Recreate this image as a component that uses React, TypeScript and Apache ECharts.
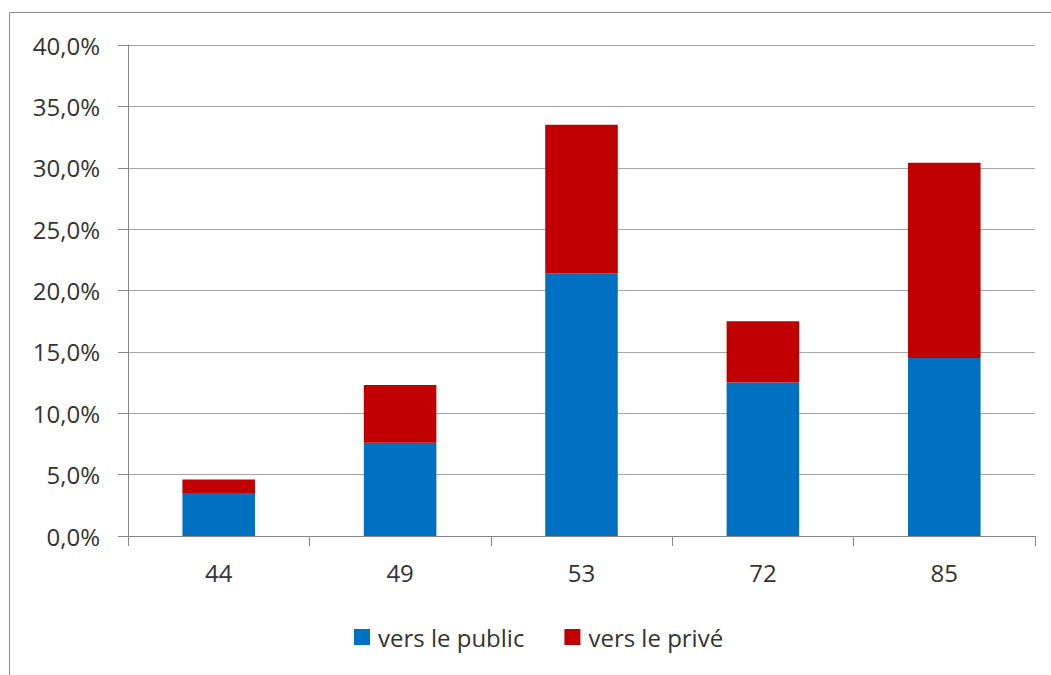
import React, { useEffect, useRef } from "react";
import * as echarts from "echarts";

const categories = ["44", "49", "53", "72", "85"];
const publicValues = [3.5, 7.6, 21.4, 12.5, 14.5];
const priveValues = [1.1, 4.7, 12.1, 5.0, 15.9];
const seriesNames = ["vers le public", "vers le privé"];

const FONT = "'Open Sans', 'Noto Sans', sans-serif";

export default function App() {
  const ref = useRef<HTMLDivElement>(null);
  useEffect(() => {
    if (!ref.current) return;
    const chart = echarts.init(ref.current, undefined, { renderer: "svg" });
    chart.setOption({
      animation: false,
      backgroundColor: "#ffffff",
      textStyle: { fontFamily: FONT },
      graphic: [
        {
          type: "rect",
          shape: { x: 9.5, y: 12.5, width: 1200, height: 800 },
          style: { fill: "none", stroke: "#8c8c8c", lineWidth: 1 },
          silent: true,
          z: -1,
        },
      ],
      grid: { left: 128, right: 16, top: 45, bottom: 139, containLabel: false },
      legend: {
        left: 349,
        top: 620,
        itemWidth: 16,
        itemHeight: 16,
        itemGap: 40,
        icon: "rect",
        textStyle: { fontFamily: FONT, fontSize: 24, color: "#333333", padding: [0, 0, 0, 3] },
        data: seriesNames,
      },
      xAxis: {
        type: "category",
        data: categories,
        boundaryGap: true,
        axisLine: { lineStyle: { color: "#868686", width: 1 } },
        axisTick: { show: true, alignWithLabel: false, length: 10, lineStyle: { color: "#868686" } },
        axisLabel: { fontFamily: FONT, fontSize: 24, color: "#333333", margin: 24 },
        splitLine: { show: false },
      },
      yAxis: {
        type: "value",
        min: 0,
        max: 40,
        interval: 5,
        axisLine: { show: true, lineStyle: { color: "#868686", width: 1 } },
        axisTick: { show: true, length: 10, lineStyle: { color: "#868686" } },
        axisLabel: {
          fontFamily: FONT,
          fontSize: 24,
          color: "#333333",
          margin: 28,
          formatter: (v: number) => v.toFixed(1).replace(".", ",") + "%",
        },
        splitLine: { show: true, lineStyle: { color: "#a6a6a6", width: 1 } },
      },
      series: [
        {
          name: seriesNames[0],
          type: "bar",
          stack: "total",
          data: publicValues,
          barCategoryGap: "60%",
          itemStyle: { color: "#0070C0" },
        },
        {
          name: seriesNames[1],
          type: "bar",
          stack: "total",
          data: priveValues,
          barCategoryGap: "60%",
          itemStyle: { color: "#C00000" },
        },
      ],
    });
    return () => chart.dispose();
  }, []);
  return (
    <div
      ref={ref}
      style={{ position: "absolute", left: 0, top: 0, width: 1051, height: 675 }}
    />
  );
}
